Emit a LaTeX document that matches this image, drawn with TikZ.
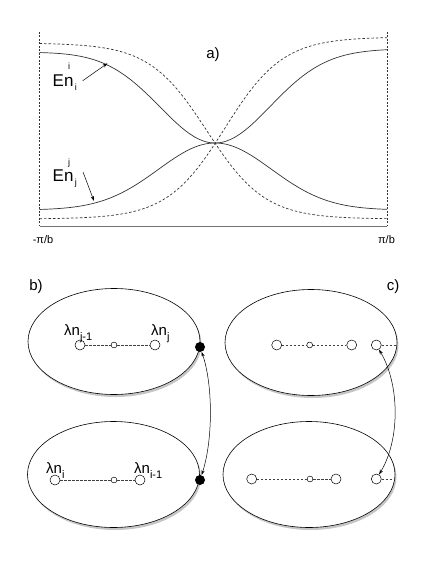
\documentclass[tikz,border=0pt]{standalone}
\usepackage{fontspec}
\setmainfont{Liberation Sans}
\usetikzlibrary{shapes.geometric,shadows,arrows.meta}

% etichette con pedici/apici
\newcommand{\Elab}[1]{E\rlap{\hspace{4pt}\raisebox{17pt}{\fontsize{9}{9}\selectfont #1}}n\raisebox{-3.5pt}{\fontsize{9}{9}\selectfont\hspace{1.5pt}#1}}
\newcommand{\Llab}[1]{λn\raisebox{-5pt}{\fontsize{11}{11}\selectfont #1}}

\begin{document}
\begin{tikzpicture}[x=1pt, y=-1pt, >={Stealth[length=5pt,width=3.2pt]},
    every node/.style={inner sep=0pt},
    curva/.style={line width=0.7pt, black!80},
    curvad/.style={curva, dash pattern=on 2.5pt off 2pt},
    bolla/.style={ellipse, draw, line width=0.6pt, fill=white,
        minimum width=172pt, minimum height=106pt,
        drop shadow={opacity=0.45, shadow xshift=1.5pt, shadow yshift=-2.5pt}},
    sito/.style={circle, draw, line width=0.5pt, fill=white, minimum size=10pt},
    sitino/.style={circle, draw, line width=0.5pt, fill=white, minimum size=5.8pt},
    pieno/.style={circle, fill=black, minimum size=10pt},
    legame/.style={black!75, line width=0.5pt, dash pattern=on 2.5pt off 1.5pt},
    scambio/.style={<->, line width=0.5pt}]

    \useasboundingbox (0,0) rectangle (436,564);

    % --- PANNELLO a): BANDE ---
    \draw[black!80, dash pattern=on 2pt off 1.5pt] (39.5,32) -- (39.5,226);
    \draw[black!80, dash pattern=on 2pt off 1.5pt] (387,32) -- (387,226);
    \draw[black!55, line width=1.4pt] (39.5,226.5) -- (387,226.5);

    % curve continue (bande accoppiate)
    \draw[curva] plot[domain=39.5:387, samples=160]
        (\x, {(52-3*(\x-39.5)/347.5) + (143-(52-3*(\x-39.5)/347.5))*exp(-((\x-215)/78)^2)});
    \draw[curva] plot[domain=39.5:387, samples=160]
        (\x, {210-67*exp(-((\x-215)/80)^2)});

    % curve tratteggiate (bande non accoppiate)
    \draw[curvad] plot[domain=39.5:387, samples=160]
        (\x, {43+176/(1+exp(-(\x-207)/29))});
    \draw[curvad] plot[domain=39.5:387, samples=160]
        (\x, {219-182/(1+exp(-(\x-225)/29))});

    % etichette
    \node[font=\fontsize{15}{15}\selectfont, anchor=base] (la) at (213,59) {a)};
    \node[font=\fontsize{11}{11}\selectfont, anchor=base] (kmin) at (43,243) {-π/b};
    \node[font=\fontsize{11}{11}\selectfont, anchor=base] (kmax) at (386.5,243) {π/b};

    \node[font=\fontsize{17}{17}\selectfont, anchor=base west] (Ei) at (52.5,87) {\Elab{i}};
    \node[font=\fontsize{17}{17}\selectfont, anchor=base west] (Ej) at (52.5,182) {\Elab{j}};
    \coordinate (Eicoda) at (82.7,80.7);
    \coordinate (Eipunta) at (107.5,63.3);
    \coordinate (Ejcoda) at (83,172);
    \coordinate (Ejpunta) at (94,201);
    \draw[->, line width=0.5pt] (Eicoda) -- (Eipunta);
    \draw[->, line width=0.5pt] (Ejcoda) -- (Ejpunta);

    % --- PANNELLO b) ---
    \node[font=\fontsize{15}{15}\selectfont, anchor=base] (lb) at (36,290) {b)};
    \node[bolla] (Bs) at (114,341.5) {};
    \node[bolla] (Bi) at (113.5,474.5) {};

    \node[sito]   (bj1) at (80,345) {};
    \node[sitino] (bm)  at (114,345) {};
    \node[sito]   (bj)  at (155,345) {};
    \node[sito]   (bi)  at (55,480) {};
    \node[sitino] (bm2) at (114,480) {};
    \node[sito]   (bi1) at (140,480) {};
    \draw[legame] (bj1) -- (bm) -- (bj);
    \draw[legame] (bi) -- (bm2) -- (bi1);

    \node[pieno] (Ps) at (200,347) {};
    \node[pieno] (Pi) at (200,480) {};
    \draw[scambio] (Ps) .. controls (213,385) and (213,440) .. (Pi);

    \node[font=\fontsize{15}{15}\selectfont, anchor=base west] (Lj1) at (64,335) {\Llab{j-1}};
    \node[font=\fontsize{15}{15}\selectfont, anchor=base west] (Lj)  at (151,335) {\Llab{j}};
    \node[font=\fontsize{15}{15}\selectfont, anchor=base west] (Li)  at (46,473) {\Llab{i}};
    \node[font=\fontsize{15}{15}\selectfont, anchor=base west] (Li1) at (134,473) {\Llab{i-1}};

    % --- PANNELLO c) ---
    \node[font=\fontsize{15}{15}\selectfont, anchor=base] (lc) at (393,290) {c)};
    \node[bolla] (Cs) at (311,342.5) {};
    \node[bolla] (Ci) at (309,474.5) {};

    \node[sito]   (c1) at (276.7,345) {};
    \node[sitino] (c2) at (309.7,345) {};
    \node[sito]   (c3) at (351.7,345) {};
    \node[sito]   (c4) at (376.3,345) {};
    \node[sito]   (d1) at (251.7,479) {};
    \node[sitino] (d2) at (310,479) {};
    \node[sito]   (d3) at (336,479) {};
    \node[sito]   (d4) at (376.3,479) {};
    \draw[legame] (c1) -- (c2) -- (c3);
    \draw[legame] (c4) -- (c4 -| Cs.east);
    \draw[legame] (d1) -- (d2) -- (d3);
    \draw[legame] (d4) -- (d4 -| Ci.east);
    \draw[scambio] (c4) .. controls (400,385) and (400,440) .. (d4);

\end{tikzpicture}
\end{document}
